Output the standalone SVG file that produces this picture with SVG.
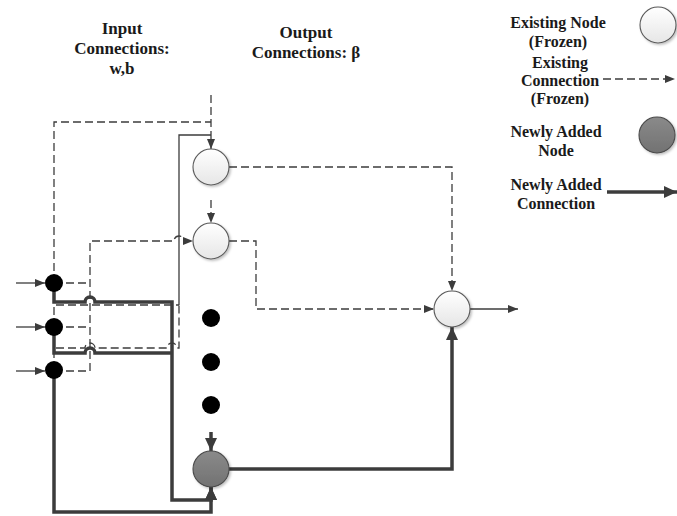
<svg xmlns="http://www.w3.org/2000/svg" width="677" height="516" viewBox="0 0 677 516">
<defs>
<linearGradient id="gExist" x1="0" y1="0" x2="0" y2="1">
<stop offset="0" stop-color="#ffffff"/><stop offset="1" stop-color="#e6e6e6"/>
</linearGradient>
<linearGradient id="gNew" x1="0" y1="0" x2="0" y2="1">
<stop offset="0" stop-color="#8a8a8a"/><stop offset="1" stop-color="#727272"/>
</linearGradient>
<filter id="sh" x="-30%" y="-30%" width="160%" height="160%">
<feDropShadow dx="1.5" dy="1.5" stdDeviation="1.2" flood-color="#000" flood-opacity="0.25"/>
</filter>
<marker id="aThin" markerUnits="userSpaceOnUse" markerWidth="11" markerHeight="9" refX="10" refY="4.5" orient="auto">
<path d="M0,0.5 L10,4.5 L0,8.5 z" fill="#3c3c3c"/>
</marker>
<marker id="aThick" markerUnits="userSpaceOnUse" markerWidth="14" markerHeight="12" refX="13" refY="6" orient="auto">
<path d="M0,0 L13,6 L0,12 z" fill="#3c3c3c"/>
</marker>
<style>
.txt{font-family:"Liberation Serif","Times New Roman",serif;font-weight:bold;font-size:16px;fill:#1a1a1a;text-anchor:middle}
.ttl{font-size:17px}
.dash{fill:none;stroke:#3c3c3c;stroke-width:1.3;stroke-dasharray:8,4}
.thin{fill:none;stroke:#3c3c3c;stroke-width:1.3}
.thick{fill:none;stroke:#3c3c3c;stroke-width:3.5}
.exist{fill:url(#gExist);stroke:#5a5a5a;stroke-width:1.1}
.new{fill:url(#gNew);stroke:#4a4a4a;stroke-width:1.1}
.dot{fill:#000}
</style>
</defs>

<g id="labels">
<text class="txt ttl" x="122" y="34">Input</text>
<text class="txt ttl" x="122" y="54">Connections:</text>
<text class="txt ttl" x="122" y="74">w,b</text>
<text class="txt ttl" x="306" y="38">Output</text>
<text class="txt ttl" x="306" y="58">Connections: β</text>
</g>

<g id="connectors">
<!-- input arrows -->
<line class="thin" x1="16" y1="283" x2="45" y2="283" marker-end="url(#aThin)"/>
<line class="thin" x1="16" y1="327" x2="45" y2="327" marker-end="url(#aThin)"/>
<line class="thin" x1="16" y1="371" x2="45" y2="371" marker-end="url(#aThin)"/>
<!-- existing connections to hidden node 1 -->
<path class="dash" d="M211,95 V149" marker-end="url(#aThin)"/>
<path class="dash" d="M54,283 V122 H211"/>
<path class="thin" d="M179,305 V135 H211"/>
<path class="dash" d="M54,327 V305 H179"/>
<path class="dash" d="M54,370 V348 H85 A5,5 0 0 1 95,348 H167 A5,5 0 0 1 177,348 H179 V305"/>
<!-- existing connections to hidden node 2 -->
<path class="dash" d="M211,200 V223" marker-end="url(#aThin)"/>
<path class="dash" d="M54,283 H90"/>
<path class="dash" d="M54,327 H90"/>
<path class="dash" d="M54,371 H90 V241 H174 A5,5 0 0 1 184,241 H193" marker-end="url(#aThin)"/>
<!-- output connections -->
<path class="dash" d="M229,167 H452 V291" marker-end="url(#aThin)"/>
<path class="dash" d="M229,241 H256 V309 H434" marker-end="url(#aThin)"/>
<line class="thin" x1="470" y1="309" x2="518" y2="309" marker-end="url(#aThin)"/>
<!-- newly added connections -->
<path class="thick" d="M54,283 V302 H85 A5,5 0 0 1 95,302 H172 V500 H211 V487" marker-end="url(#aThick)"/>
<path class="thick" d="M54,327 V353 H85 A5,5 0 0 1 95,353 H172"/>
<path class="thick" d="M54,370 V512 H211 V487" marker-end="url(#aThick)"/>
<path class="thick" d="M211,432 V451" marker-end="url(#aThick)"/>
<path class="thick" d="M229,469 H452 V327" marker-end="url(#aThick)"/>
</g>

<g id="in1"><circle class="dot" cx="54" cy="283" r="9"/></g>
<g id="in2"><circle class="dot" cx="54" cy="327" r="9"/></g>
<g id="in3"><circle class="dot" cx="54" cy="370" r="9"/></g>
<g id="hidden1"><circle class="exist" cx="211" cy="167" r="18" filter="url(#sh)"/></g>
<g id="hidden2"><circle class="exist" cx="211" cy="241" r="18" filter="url(#sh)"/></g>
<g id="ellipsis">
<circle class="dot" cx="211" cy="318" r="9"/>
<circle class="dot" cx="211" cy="362" r="9"/>
<circle class="dot" cx="211" cy="405" r="9"/>
</g>
<g id="newNode"><circle class="new" cx="211" cy="469" r="18" filter="url(#sh)"/></g>
<g id="output"><circle class="exist" cx="452" cy="309" r="18" filter="url(#sh)"/></g>

<g id="legend">
<text class="txt" x="558" y="28">Existing Node</text>
<text class="txt" x="558" y="47">(Frozen)</text>
<circle class="exist" cx="658" cy="25" r="18" filter="url(#sh)"/>
<text class="txt" x="560" y="68">Existing</text>
<text class="txt" x="560" y="86">Connection</text>
<text class="txt" x="560" y="104">(Frozen)</text>
<line class="dash" x1="603" y1="79" x2="675" y2="79" marker-end="url(#aThin)"/>
<text class="txt" x="556" y="137">Newly Added</text>
<text class="txt" x="556" y="156">Node</text>
<circle class="new" cx="657" cy="135" r="18" filter="url(#sh)"/>
<text class="txt" x="556" y="190">Newly Added</text>
<text class="txt" x="556" y="209">Connection</text>
<line class="thick" x1="607" y1="192" x2="677" y2="192" marker-end="url(#aThick)"/>
</g>
</svg>
